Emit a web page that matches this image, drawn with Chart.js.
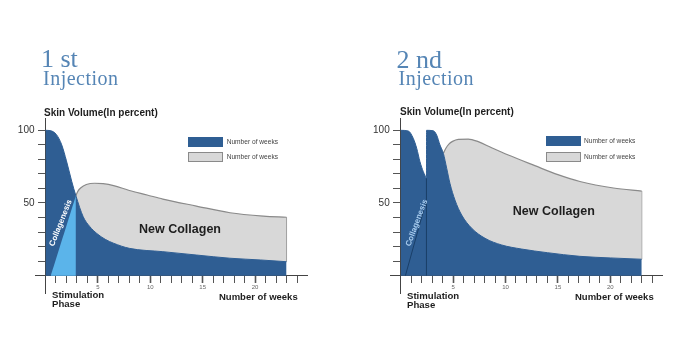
<!DOCTYPE html>
<html><head><meta charset="utf-8">
<script src="https://cdn.jsdelivr.net/npm/chart.js@4.4.0/dist/chart.umd.min.js"></script>
<style>
html,body{margin:0;padding:0;background:#fff;}
#page{position:relative;width:680px;height:337px;overflow:hidden;font-family:'Liberation Sans',Arial,sans-serif;}
canvas{position:absolute;top:0;}
.t{position:absolute;white-space:nowrap;line-height:1;}
.serif{font-family:'Liberation Serif',serif;color:#5585b5;}
.b{font-weight:bold;color:#1e1e1e;}
.c{transform:translate(-50%,-50%);}
.lg{font-size:6.6px;color:#444;}
.box{position:absolute;width:35px;height:10px;box-sizing:border-box;}
</style></head>
<body><div id="page">
<canvas id="c1" width="340" height="337" style="left:0"></canvas>
<canvas id="c2" width="340" height="337" style="left:340px"></canvas>

<div class="t serif" style="left:41px;top:46.2px;font-size:26px">1 st</div>
<div class="t serif" style="left:43px;top:68.2px;font-size:20px;letter-spacing:0.5px">Injection</div>
<div class="t b" style="left:44px;top:107.6px;font-size:10px">Skin Volume(In percent)</div>
<div class="t b" style="left:52px;top:289.6px;font-size:9.6px">Stimulation</div>
<div class="t b" style="left:52px;top:298.9px;font-size:9.6px">Phase</div>
<div class="t b" style="left:219px;top:292px;font-size:9.5px">Number of weeks</div>
<div class="t b c" style="left:180px;top:229px;font-size:12.5px">New Collagen</div>
<div class="t b" style="left:60.8px;top:223.3px;font-size:8px;color:#fff;transform:translate(-50%,-50%) rotate(-68.6deg)">Collagenesis</div>
<div class="box" style="left:188.3px;top:136.7px;background:#2f5e93"></div>
<div class="box" style="left:188.3px;top:152.3px;background:#d8d8d8;border:1px solid #8a8a8a"></div>
<div class="t lg" style="left:226.7px;top:138.7px">Number of weeks</div>
<div class="t lg" style="left:226.7px;top:154px">Number of weeks</div>

<div class="t serif" style="left:396.5px;top:46.5px;font-size:26px">2 nd</div>
<div class="t serif" style="left:398.5px;top:68.2px;font-size:20px;letter-spacing:0.5px">Injection</div>
<div class="t b" style="left:400px;top:107px;font-size:10px">Skin Volume(In percent)</div>
<div class="t b" style="left:407px;top:290.9px;font-size:9.6px">Stimulation</div>
<div class="t b" style="left:407px;top:299.9px;font-size:9.6px">Phase</div>
<div class="t b" style="left:575px;top:292px;font-size:9.5px">Number of weeks</div>
<div class="t b c" style="left:553.8px;top:211px;font-size:12.5px">New Collagen</div>
<div class="t b" style="left:417px;top:223.3px;font-size:8px;color:#a9cdef;transform:translate(-50%,-50%) rotate(-69.6deg)">Collagenesis</div>
<div class="box" style="left:545.7px;top:136.2px;background:#2f5e93"></div>
<div class="box" style="left:545.7px;top:152.3px;background:#d8d8d8;border:1px solid #8a8a8a"></div>
<div class="t lg" style="left:584px;top:138px">Number of weeks</div>
<div class="t lg" style="left:584px;top:154.2px">Number of weeks</div>
</div>
<script>
// ---- data (weeks vs skin volume %) ----
const xTickValues = [1,2,3,4,5,6,7,8,9,10,11,12,13,14,15,16,17,18,19,20,21,22,23,24];
const xTickLabels = [5,10,15,20];
const yTickValues = [10,20,30,40,50,60,70,80,90,100];
const yTickLabels = [50,100];

const leftBlueX = [0, 0.45, 1.05, 1.55, 2.0, 2.5, 2.9, 3.6, 4.2, 4.9, 5.7, 6.5, 8.0, 11.2, 14.4, 17.6, 20.5, 23.0];
const leftBlueY = [100, 99.8, 97, 90, 79, 65, 55, 40.5, 34, 29, 25, 22.3, 18.8, 16.5, 14.2, 12, 10.8, 9.6];
const leftGrayX = [2.9, 3.1, 3.35, 3.9, 4.7, 5.5, 6.5, 8.0, 9.7, 11.2, 14.4, 17.6, 20.8, 23.0];
const leftGrayY = [55, 58.2, 60.3, 62.7, 63.6, 63.3, 62, 58.6, 55.5, 52.7, 47.9, 43.3, 41, 40.2];
const leftCollagenX = [0.5, 2.9];
const leftCollagenY = [0, 55];
const leftEdgeX = [23, 23];
const leftEdgeY = [9.6, 40.2];

const rightBlueX = [0, 0.73, 1.2, 1.53, 1.84, 2.16, 2.32, 2.46, 2.47, 3.1, 3.43, 3.75, 4.07, 4.39, 4.7, 5.18, 5.82, 6.78, 8.05, 9.64, 11.55, 14.0, 17.1, 20.0, 23.0];
const rightBlueY = [100, 99.5, 94.5, 87.6, 78.4, 71.5, 69, 67, 100, 99.7, 96.8, 89.9, 84.2, 73.9, 63.5, 52, 41.7, 32.6, 25.7, 21.1, 18.3, 15.8, 13.3, 12.2, 11.3];
const rightGrayX = [4.07, 4.3, 4.6, 4.95, 5.5, 6.45, 7.4, 8.68, 10.27, 12.8, 15.0, 17.1, 20.3, 23.0];
const rightGrayY = [84.2, 87.5, 90.5, 92.4, 93.8, 94, 92.2, 88, 83, 75.7, 69.5, 64.8, 60.3, 58.2];
const rightCollagenX = [0.45, 2.46];
const rightCollagenY = [0, 52];
const rightDividerX = [2.46, 2.46];
const rightDividerY = [0, 67];
const rightEdgeX = [23, 23];
const rightEdgeY = [11.3, 58.2];

const BLUE = '#2f5e93', LIGHT = '#5bb4ea', GRAY = '#d8d8d8', GRAYLINE = '#8a8a8a', DARK = '#1a3f68';

function pts(xs, ys){ return xs.map((x,i)=>({x:x, y:ys[i]})); }

function scales(){
  return {
    x:{type:'linear', min:-1, max:25, position:{y:0},
       afterBuildTicks: s => { s.ticks = xTickValues.map(v=>({value:v})); },
       ticks:{autoSkip:false, maxRotation:0, font:{size:6, family:'Liberation Sans'}, color:'#666', padding:1,
              callback: v => xTickLabels.includes(v) ? String(v) : ''},
       grid:{drawOnChartArea:false, drawTicks:true, tickLength:7, tickColor:'#555',
             tickWidth: c => (c.tick && c.tick.value % 5 === 0) ? 1.6 : 1},
       border:{display:true, color:'#444', width:1}},
    y:{type:'linear', min:-12, max:108, position:{x:0},
       afterBuildTicks: s => { s.ticks = yTickValues.map(v=>({value:v})); },
       ticks:{autoSkip:false, callback: () => ''},
       grid:{drawOnChartArea:false, drawTicks:true, tickLength:7, tickColor:'#555', tickWidth:1},
       border:{display:true, color:'#444', width:1}},
    yLabels:{type:'linear', axis:'y', min:-12, max:108, position:'left',
       afterBuildTicks: s => { s.ticks = yTickLabels.map(v=>({value:v})); },
       afterFit: s => { s.width = 30; },
       ticks:{autoSkip:false, font:{size:10, family:'Liberation Sans'}, color:'#333', padding:0.5},
       grid:{display:false, drawTicks:false}, border:{display:false}}
  };
}

function make(id, datasets, pad){
  return new Chart(document.getElementById(id), {
    type:'line',
    data:{datasets: datasets},
    options:{
      responsive:false, animation:false, events:[],
      layout:{padding:pad},
      plugins:{legend:{display:false}, tooltip:{enabled:false}},
      elements:{point:{radius:0}},
      scales: scales()
    }
  });
}

make('c1', [
  {label:'Collagenesis', data:pts(leftCollagenX,leftCollagenY), fill:{value:0}, backgroundColor:LIGHT, borderWidth:0, tension:0},
  {label:'Number of weeks', data:pts(leftBlueX,leftBlueY), fill:{value:0}, backgroundColor:BLUE, borderColor:BLUE, borderWidth:1, cubicInterpolationMode:'monotone'},
  {label:'Number of weeks', data:pts(leftGrayX,leftGrayY), fill:1, backgroundColor:GRAY, borderColor:GRAYLINE, borderWidth:1.2, cubicInterpolationMode:'monotone'},
  {label:'edge', data:pts(leftEdgeX,leftEdgeY), fill:false, borderColor:GRAYLINE, borderWidth:1}
], {left:5, right:32.5, top:118.7, bottom:43.9});

make('c2', [
  {label:'Collagenesis', data:pts(rightCollagenX,rightCollagenY), fill:false, borderColor:DARK, borderWidth:1, tension:0},
  {label:'divider', data:pts(rightDividerX,rightDividerY), fill:false, borderColor:DARK, borderWidth:1},
  {label:'Number of weeks', data:pts(rightBlueX,rightBlueY), fill:{value:0}, backgroundColor:BLUE, borderColor:BLUE, borderWidth:1, cubicInterpolationMode:'monotone'},
  {label:'Number of weeks', data:pts(rightGrayX,rightGrayY), fill:2, backgroundColor:GRAY, borderColor:GRAYLINE, borderWidth:1.2, cubicInterpolationMode:'monotone'},
  {label:'edge', data:pts(rightEdgeX,rightEdgeY), fill:false, borderColor:GRAYLINE, borderWidth:1}
], {left:20.2, right:17.3, top:118.7, bottom:43.9});
</script>
</body></html>
